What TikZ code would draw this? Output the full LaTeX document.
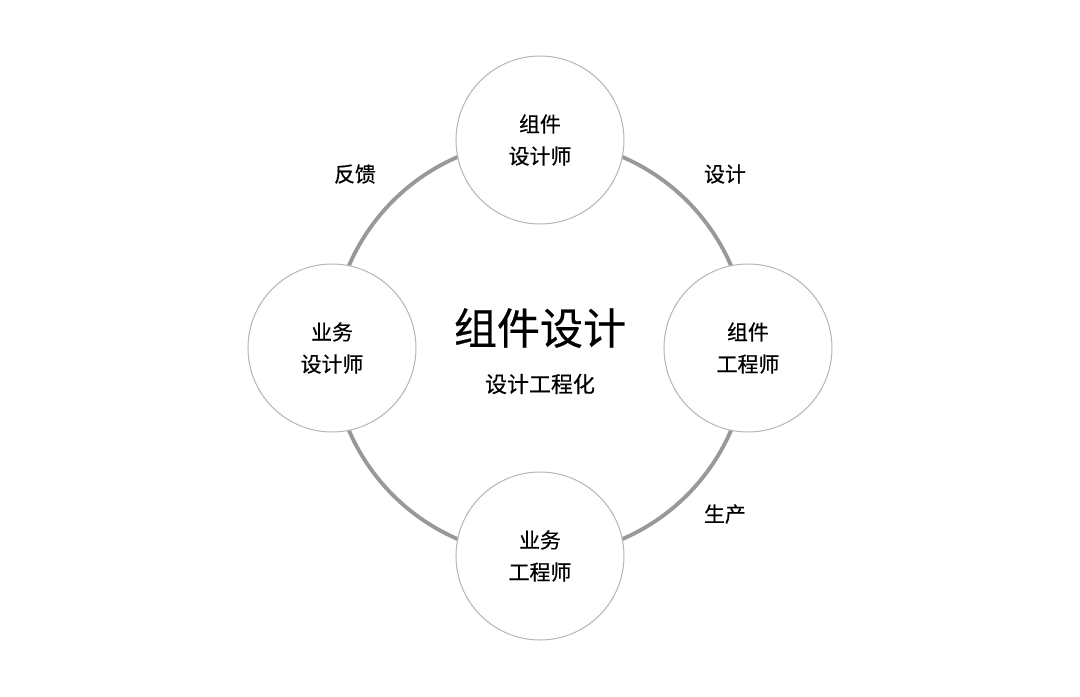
\documentclass[tikz,border=0pt]{standalone}
\usepackage{fontspec}
\setmainfont{Noto Sans CJK SC}[FakeBold=0.5]
\usetikzlibrary{positioning}

\tikzset{
  role/.style={circle, draw=black!28, line width=0.6pt, fill=white,
    minimum size=3.36cm, inner sep=0pt, align=center,
    font=\fontsize{11.9pt}{18.2pt}\selectfont},
  ring/.style={draw=black!40, line width=2.2pt},
  flow/.style={font=\fontsize{11.9pt}{14pt}\selectfont}
}

\begin{document}
\begin{tikzpicture}[x=0.02cm, y=0.02cm]
\useasboundingbox (-540,-349) rectangle (540,348);

% Outer ring
\coordinate (o) at (0,0);
\draw[ring] (o) circle (208);

% Four roles on the ring
\node[role] (top) at (0,208) {组件\\设计师};
\node[role] (right) at (208,0) {组件\\工程师};
\node[role] (bottom) at (0,-208) {业务\\工程师};
\node[role] (left) at (-208,0) {业务\\设计师};

% Labels between the roles
\node[flow] (fb) at (-185,174) {反馈};
\node[flow] (ds) at (185,174) {设计};
\node[flow] (pd) at (185,-166) {生产};

% Title in the middle
\node[font=\fontsize{24.5pt}{28pt}\selectfont] (title) at (0,20) {组件设计};
\node[font=\fontsize{12.5pt}{15pt}\selectfont] (sub) at (0,-36) {设计工程化};
\end{tikzpicture}
\end{document}
